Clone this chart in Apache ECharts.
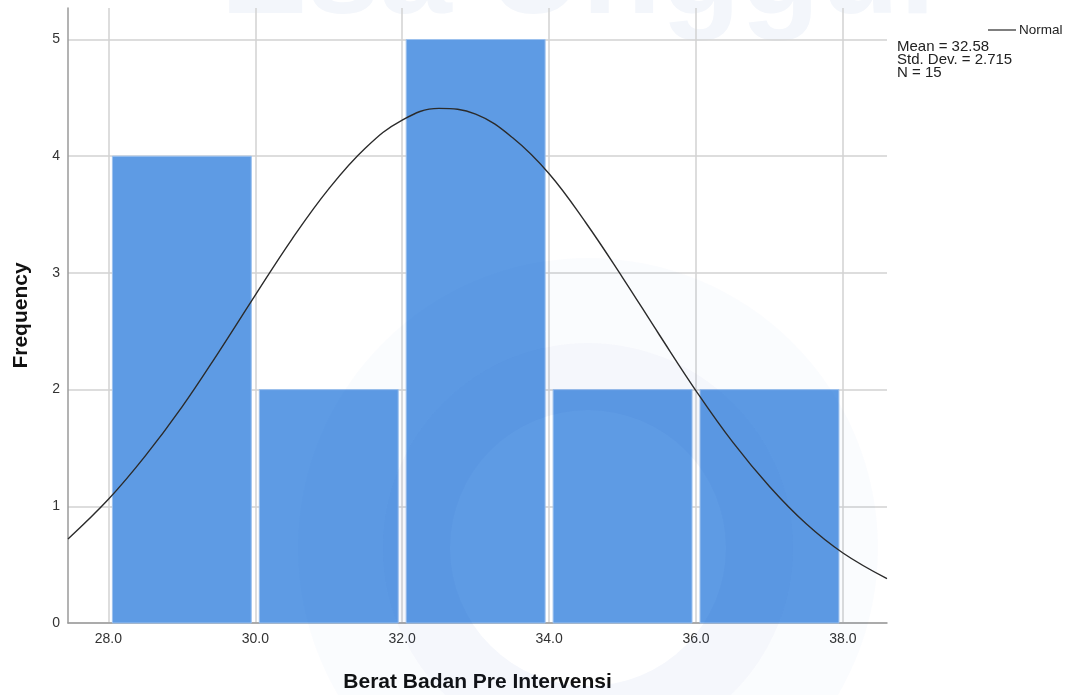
<!DOCTYPE html>
<html>
<head>
<meta charset="utf-8">
<script src="https://cdn.jsdelivr.net/npm/echarts@6/dist/echarts.min.js"></script>
<style>
  html, body { margin: 0; padding: 0; background: #ffffff; }
  #chart { width: 1068px; height: 695px; }
</style>
</head>
<body>
<div id="chart"></div>
<script>
// Histogram bins: lower edge, upper edge, frequency
const binStart = [28, 30, 32, 34, 36];
const binEnd   = [30, 32, 34, 36, 38];
const binCount = [4, 2, 5, 2, 2];

// Fitted normal curve (Mean 32.58, SD 2.715, N 15), sampled along the x range
const curveX = [27.45, 28, 28.5, 29, 29.5, 30, 30.5, 31, 31.5, 32, 32.5, 33, 33.5, 34, 34.5, 35, 35.5, 36, 36.5, 37, 37.5, 38, 38.6];
const curveY = [0.72, 1.06, 1.43, 1.85, 2.32, 2.81, 3.29, 3.72, 4.07, 4.31, 4.41, 4.36, 4.16, 3.85, 3.43, 2.96, 2.47, 1.99, 1.55, 1.17, 0.85, 0.60, 0.38];

const xTicks = [28, 30, 32, 34, 36, 38];
const yTicks = [0, 1, 2, 3, 4, 5];

const statLines = ['Mean = 32.58', 'Std. Dev. = 2.715', 'N = 15'];

const FONT = '"Liberation Sans", Arial, sans-serif';

const chart = echarts.init(document.getElementById('chart'), null, { renderer: 'canvas' });

const bins = binStart.map((s, i) => [s, binEnd[i], binCount[i]]);
const curve = curveX.map((x, i) => [x, curveY[i]]);

chart.setOption({
  animation: false,
  backgroundColor: '#ffffff',
  grid: { left: 68, right: 181, top: 8, bottom: 72, containLabel: false, outerBoundsMode: 'none' },
  xAxis: {
    type: 'value',
    min: 27.45,
    max: 38.6,
    name: 'Berat Badan Pre Intervensi',
    nameLocation: 'middle',
    nameGap: 49,
    nameTextStyle: { fontFamily: FONT, fontSize: 21, fontWeight: 'bold', color: '#111' },
    axisLine: { show: true, lineStyle: { color: '#9a9a9a', width: 1.5 } },
    axisTick: { show: false, customValues: xTicks },
    axisLabel: {
      customValues: xTicks,
      formatter: v => v.toFixed(1),
      fontFamily: FONT, fontSize: 14, color: '#333', margin: 9
    },
    splitLine: { show: true, lineStyle: { color: '#d2d2d2', width: 1.5 } }
  },
  yAxis: {
    type: 'value',
    min: 0,
    max: 5.27,
    name: 'Frequency',
    nameLocation: 'middle',
    nameGap: 36,
    nameRotate: 90,
    nameTextStyle: { fontFamily: FONT, fontSize: 21, fontWeight: 'bold', color: '#111' },
    axisLine: { show: true, lineStyle: { color: '#9a9a9a', width: 1.5 } },
    axisTick: { show: false, customValues: yTicks },
    axisLabel: {
      customValues: yTicks,
      fontFamily: FONT, fontSize: 14, color: '#333', margin: 8
    },
    splitLine: { show: true, lineStyle: { color: '#d2d2d2', width: 1.5 } }
  },
  series: [
    {
      type: 'custom',
      name: 'bins',
      data: bins,
      encode: { x: [0, 1], y: 2 },
      z: 2,
      renderItem: function (params, api) {
        const p0 = api.coord([api.value(0), 0]);
        const p1 = api.coord([api.value(1), api.value(2)]);
        const inset = 4;
        return {
          type: 'rect',
          shape: {
            x: p0[0] + inset,
            y: p1[1],
            width: p1[0] - p0[0] - inset * 2,
            height: p0[1] - p1[1]
          },
          style: { fill: '#5e9be4', stroke: '#9cc1ee', lineWidth: 1 }
        };
      }
    },
    {
      type: 'line',
      name: 'Normal',
      data: curve,
      smooth: 0.4,
      symbol: 'none',
      z: 5,
      lineStyle: { color: '#2b2b2b', width: 1.4 }
    }
  ],
  graphic: [
    // faint institutional watermark
    {
      type: 'text', z: -10, silent: true,
      style: {
        text: 'Esa Unggul', x: 578, y: 42, align: 'center', verticalAlign: 'bottom',
        font: 'bold 130px ' + FONT, fill: '#f3f6fb'
      }
    },
    {
      type: 'ring', z: 3, silent: true,
      shape: { cx: 588, cy: 548, r: 205, r0: 138 },
      style: { fill: 'rgba(20, 80, 190, 0.045)' }
    },
    {
      type: 'ring', z: 3, silent: true,
      shape: { cx: 588, cy: 548, r: 290, r0: 205 },
      style: { fill: 'rgba(20, 80, 190, 0.02)' }
    },
    // legend entry for the fitted curve
    {
      type: 'line', z: 10,
      shape: { x1: 988, y1: 30, x2: 1016, y2: 30 },
      style: { stroke: '#2b2b2b', lineWidth: 1.2 }
    },
    {
      type: 'text', z: 10,
      style: { text: 'Normal', x: 1019, y: 30, verticalAlign: 'middle', font: '13.5px ' + FONT, fill: '#222' }
    },
    {
      type: 'text', z: 10,
      style: {
        text: statLines.join('\n'), x: 897, y: 40, lineHeight: 13,
        font: '15px ' + FONT, fill: '#222'
      }
    }
  ]
});
</script>
</body>
</html>
